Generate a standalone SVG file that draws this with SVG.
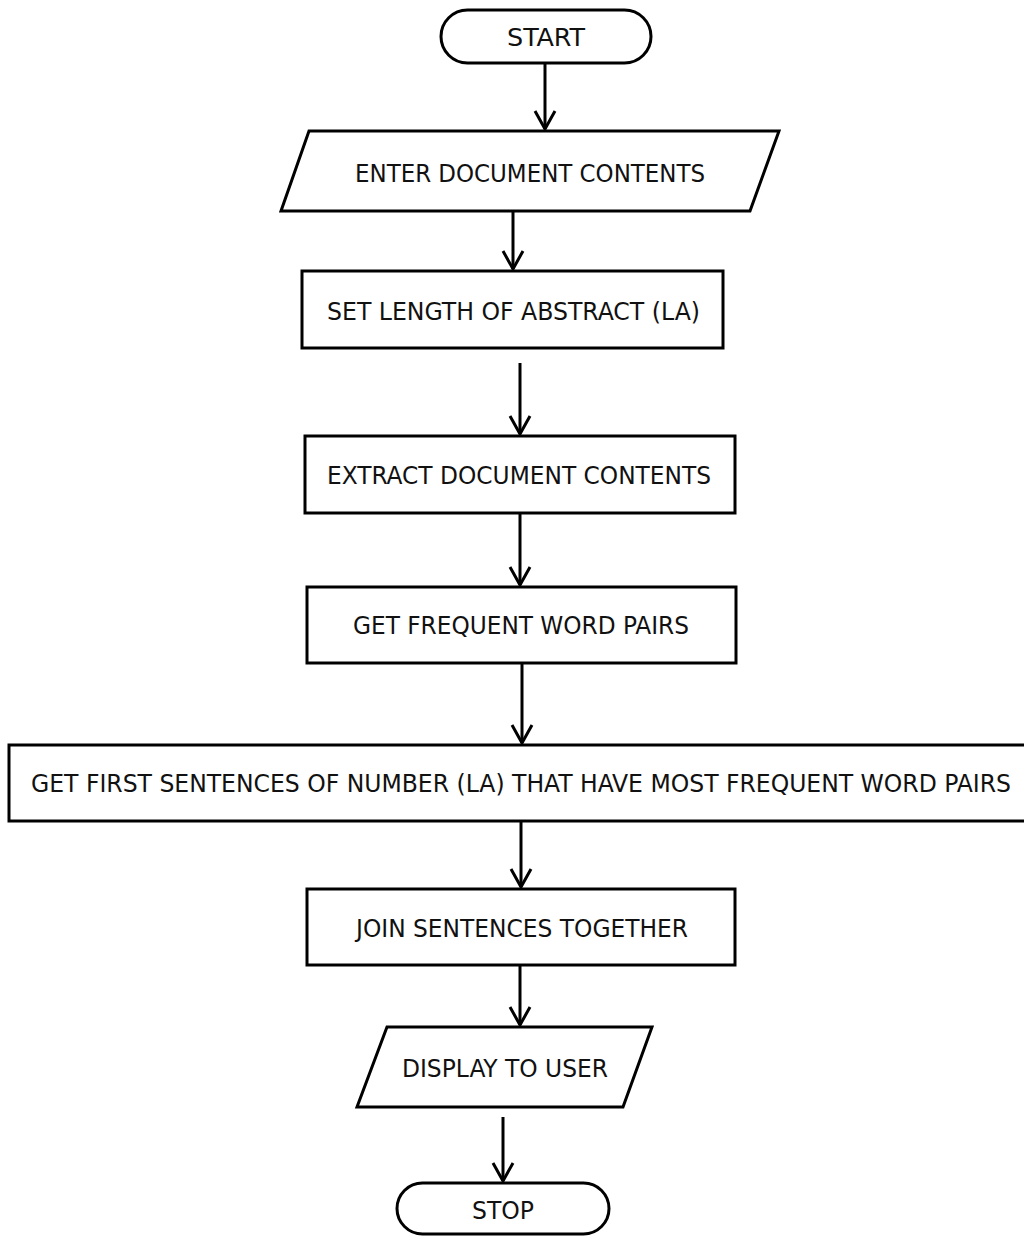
<svg xmlns="http://www.w3.org/2000/svg" width="1024" height="1236" viewBox="0 0 1024 1236">
<style>
.shape{fill:#fff;stroke:#000;stroke-width:3;stroke-linejoin:miter}
.lbl{font-family:"DejaVu Sans Condensed","DejaVu Sans","Liberation Sans",sans-serif;font-size:24px;fill:#111;text-anchor:middle}
.conn{stroke:#000;stroke-width:3;fill:none}
</style>
<defs>
<marker id="arr" markerUnits="userSpaceOnUse" markerWidth="24" markerHeight="26" refX="0" refY="0" viewBox="-20 -13 22 26" orient="auto">
<path d="M-18,-10 L0,0 L-18,10" fill="none" stroke="#000" stroke-width="3"/>
</marker>
</defs>
<rect width="1024" height="1236" fill="#fff"/>
<g id="connectors">
<line class="conn" x1="545" y1="63" x2="545" y2="129" marker-end="url(#arr)"/>
<line class="conn" x1="513" y1="211" x2="513" y2="269" marker-end="url(#arr)"/>
<line class="conn" x1="520" y1="363" x2="520" y2="434" marker-end="url(#arr)"/>
<line class="conn" x1="520" y1="513" x2="520" y2="585" marker-end="url(#arr)"/>
<line class="conn" x1="522" y1="663" x2="522" y2="743" marker-end="url(#arr)"/>
<line class="conn" x1="521" y1="821" x2="521" y2="887" marker-end="url(#arr)"/>
<line class="conn" x1="520" y1="965" x2="520" y2="1025" marker-end="url(#arr)"/>
<line class="conn" x1="503" y1="1117" x2="503" y2="1181" marker-end="url(#arr)"/>
</g>
<g id="start">
<rect class="shape" x="441" y="10" width="210" height="53" rx="26.5" ry="26.5"/>
<text class="lbl" x="546" y="46" textLength="78" lengthAdjust="spacingAndGlyphs">START</text>
</g>
<g id="enter">
<polygon class="shape" points="309,131 779,131 750,211 281,211"/>
<text class="lbl" x="530" y="182" textLength="350" lengthAdjust="spacingAndGlyphs">ENTER DOCUMENT CONTENTS</text>
</g>
<g id="setlen">
<rect class="shape" x="302" y="271" width="421" height="77"/>
<text class="lbl" x="513.5" y="320" textLength="373" lengthAdjust="spacingAndGlyphs">SET LENGTH OF ABSTRACT (LA)</text>
</g>
<g id="extract">
<rect class="shape" x="305" y="436" width="430" height="77"/>
<text class="lbl" x="519" y="484" textLength="384" lengthAdjust="spacingAndGlyphs">EXTRACT DOCUMENT CONTENTS</text>
</g>
<g id="getfreq">
<rect class="shape" x="307" y="587" width="429" height="76"/>
<text class="lbl" x="521" y="634" textLength="336" lengthAdjust="spacingAndGlyphs">GET FREQUENT WORD PAIRS</text>
</g>
<g id="getfirst">
<rect class="shape" x="9" y="745" width="1030" height="76"/>
<text class="lbl" x="521" y="792" font-size="23" textLength="980" lengthAdjust="spacingAndGlyphs">GET FIRST SENTENCES OF NUMBER (LA) THAT HAVE MOST FREQUENT WORD PAIRS</text>
</g>
<g id="join">
<rect class="shape" x="307" y="889" width="428" height="76"/>
<text class="lbl" x="522" y="937" textLength="332" lengthAdjust="spacingAndGlyphs">JOIN SENTENCES TOGETHER</text>
</g>
<g id="display">
<polygon class="shape" points="387,1027 652,1027 623,1107 357,1107"/>
<text class="lbl" x="505" y="1077" textLength="206" lengthAdjust="spacingAndGlyphs">DISPLAY TO USER</text>
</g>
<g id="stop">
<rect class="shape" x="397" y="1183" width="212" height="51" rx="25.5" ry="25.5"/>
<text class="lbl" x="503" y="1219" textLength="62" lengthAdjust="spacingAndGlyphs">STOP</text>
</g>
</svg>
